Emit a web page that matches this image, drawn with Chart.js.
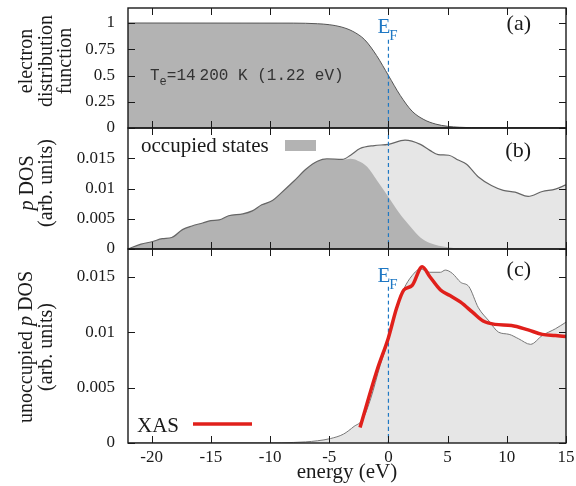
<!DOCTYPE html>
<html>
<head>
<meta charset="utf-8">
<script src="https://cdn.jsdelivr.net/npm/chart.js@4.4.1/dist/chart.umd.min.js"></script>
<style>
html, body { margin: 0; padding: 0; background: #fff; }
#wrap { position: relative; width: 576px; height: 486px; }
canvas { position: absolute; left: 0; top: 0; }
</style>
</head>
<body>
<div id="wrap">
  <canvas id="cA" width="576" height="486"></canvas>
  <canvas id="cB" width="576" height="486"></canvas>
  <canvas id="cC" width="576" height="486"></canvas>
</div>
<script>
// energy axis (eV)
const xMin = -22, xMax = 15;
const xTicks = [-20, -15, -10, -5, 0, 5, 10, 15];
const eFermi = 0;

// (a) electron distribution function
const fdE = [-22, -8, -6, -5, -4, -3, -2, -1, 0, 1, 2, 3, 4, 5, 6, 8, 15];
const fdV = [1, 0.999, 0.993, 0.984, 0.963, 0.92, 0.84, 0.69, 0.5, 0.31, 0.16, 0.08, 0.037, 0.016, 0.007, 0.0014, 0];
const yTicksA = [0, 0.25, 0.5, 0.75, 1];

// (b) p DOS total + occupied part
const dosE = [-22, -20.9, -20, -19.1, -18.3, -17.4, -16.6, -15.7, -15, -14.3, -13.5, -12.3, -11.5, -10.7, -9.8, -9.1,
  -8, -6.9, -6, -5.2, -3.9, -3.2, -2.4, -1.2, 0, 1.4, 2.7, 3.5, 4.2, 5.1, 5.9, 6.6, 7.6, 8.7, 9.7, 10.7, 11.8, 13, 14.1, 15];
const dosV = [0, 0.0008, 0.0012, 0.0017, 0.0019, 0.0032, 0.0038, 0.0043, 0.0047, 0.0048, 0.0055, 0.0058, 0.0063, 0.0073, 0.008, 0.0092,
  0.0112, 0.0133, 0.0145, 0.0149, 0.0148, 0.0155, 0.0166, 0.0171, 0.0173, 0.018, 0.0173, 0.0163, 0.0156, 0.0155, 0.0147, 0.014, 0.0119, 0.0105, 0.0097, 0.0094, 0.0087, 0.0095, 0.0099, 0.0106];
const occE = [-22, -20.9, -20, -19.1, -18.3, -17.4, -16.6, -15.7, -15, -14.3, -13.5, -12.3, -11.5, -10.7, -9.8, -9.1,
  -8, -6.9, -6, -5.2, -3.9, -3.2, -2.6, -1.8, -0.95, 0, 0.9, 1.9, 2.7, 3.5, 5, 7, 9, 15];
const occV = [0, 0.0008, 0.0012, 0.0017, 0.0019, 0.0032, 0.0038, 0.0043, 0.0047, 0.0048, 0.0055, 0.0058, 0.0063, 0.0073, 0.008, 0.0092,
  0.0112, 0.0133, 0.0145, 0.0148, 0.0147, 0.0149, 0.0146, 0.0136, 0.0113, 0.0086, 0.006, 0.0036, 0.0019, 0.001, 0.0003, 0.00005, 0, 0];
const yTicksB = [0, 0.005, 0.01, 0.015];

// (c) unoccupied p DOS + XAS
const unE = [-22, -10, -8, -7, -6, -4.9, -3.8, -2.9, -2.2, -1.5, -0.7, 0, 0.7, 1.3, 2, 2.7, 3.5, 4.4, 4.8, 5.4, 6.1, 6.8, 7.6, 8.5, 9.3, 10.2, 11, 12, 13, 14.1, 15];
const unV = [0, 0.00001, 0.00005, 0.0001, 0.0002, 0.0004, 0.0008, 0.0015, 0.0021, 0.004, 0.007, 0.0093, 0.0122, 0.0139, 0.0151, 0.0157, 0.0154, 0.0154, 0.0156, 0.0153, 0.0145, 0.0141, 0.0122, 0.011, 0.01, 0.0098, 0.0094, 0.0089, 0.0097, 0.0103, 0.0109];
const xasE = [-2.4, -0.95, 0, 0.7, 1.3, 2, 2.85, 3.5, 4.4, 5.2, 6.1, 7.1, 8, 9, 10.4, 11.8, 13, 14.1, 15];
const xasV = [0.0014, 0.0066, 0.0095, 0.0122, 0.0138, 0.0142, 0.0159, 0.015, 0.0138, 0.0133, 0.0127, 0.0118, 0.011, 0.0107, 0.0106, 0.0102, 0.0098, 0.0097, 0.0096];
const yTicksC = [0, 0.005, 0.01, 0.015];

const serif = '"Liberation Serif", "Times New Roman", serif';
const blue = '#1f78c4';
const darkFill = '#b3b3b3';
const lightFill = '#e6e6e6';
const ink = '#1a1a1a';

function pts(xs, ys) {
  return xs.map((v, i) => ({ x: v, y: ys[i] }));
}

function efLine(yTop) {
  return {
    data: [{ x: eFermi, y: yTop }, { x: eFermi, y: 0 }],
    borderColor: blue, borderWidth: 1.2, borderDash: [4, 3], fill: false, tension: 0
  };
}

// box + inward ticks on all four sides
function frame(c) {
  const ctx = c.ctx, a = c.chartArea, x = c.scales.x, y = c.scales.y;
  ctx.save();
  ctx.strokeStyle = ink;
  ctx.lineWidth = 1;
  ctx.beginPath();
  x.ticks.forEach(t => {
    const px = Math.round(x.getPixelForValue(t.value)) + 0.5;
    ctx.moveTo(px, a.top); ctx.lineTo(px, a.top + 7);
    ctx.moveTo(px, a.bottom); ctx.lineTo(px, a.bottom - 7);
  });
  y.ticks.forEach(t => {
    const py = Math.round(y.getPixelForValue(t.value)) + 0.5;
    ctx.moveTo(a.left, py); ctx.lineTo(a.left + 7, py);
    ctx.moveTo(a.right, py); ctx.lineTo(a.right - 7, py);
  });
  ctx.stroke();
  ctx.lineWidth = 1.4;
  ctx.strokeRect(a.left, a.top, a.right - a.left, a.bottom - a.top);
  ctx.restore();
}

// rotated multi-part y title
function vtitle(ctx, cy, lines) {
  ctx.save();
  ctx.fillStyle = ink;
  ctx.textAlign = 'left';
  ctx.textBaseline = 'alphabetic';
  lines.forEach(l => {
    let w = 0;
    l.parts.forEach(p => { ctx.font = p[1]; w += ctx.measureText(p[0]).width; });
    ctx.save();
    ctx.translate(l.x, cy);
    ctx.rotate(-Math.PI / 2);
    let cx = -w / 2;
    l.parts.forEach(p => {
      ctx.font = p[1];
      ctx.fillText(p[0], cx, 0);
      cx += ctx.measureText(p[0]).width;
    });
    ctx.restore();
  });
  ctx.restore();
}

function efLabel(ctx, x, y) {
  ctx.save();
  ctx.fillStyle = blue;
  ctx.textAlign = 'left';
  ctx.font = '21px ' + serif;
  ctx.fillText('E', x, y);
  const w = ctx.measureText('E').width;
  ctx.font = '15px ' + serif;
  ctx.fillText('F', x + w - 1, y + 7);
  ctx.restore();
}

const tickFont = { family: serif, size: 17 };

function panel(id, top, bottom, yMax, yTicks, showX, datasets, deco) {
  return new Chart(document.getElementById(id), {
    type: 'line',
    data: { datasets: datasets },
    options: {
      responsive: false,
      animation: false,
      devicePixelRatio: 1,
      layout: { autoPadding: false, padding: { left: 0, right: 10, top: top, bottom: 0 } },
      plugins: { legend: { display: false }, tooltip: { enabled: false } },
      elements: { point: { radius: 0 }, line: { cubicInterpolationMode: 'monotone' } },
      scales: {
        x: {
          type: 'linear', min: xMin, max: xMax,
          afterBuildTicks: s => { s.ticks = xTicks.map(v => ({ value: v })); },
          afterFit: s => { s.height = 486 - bottom; s.paddingLeft = 0; s.paddingRight = 0; },
          grid: { display: false, drawTicks: false },
          border: { display: false },
          ticks: { display: showX, padding: 4, font: tickFont, color: ink, maxRotation: 0, autoSkip: false, callback: v => String(v) }
        },
        y: {
          type: 'linear', min: 0, max: yMax,
          afterBuildTicks: s => { s.ticks = yTicks.map(v => ({ value: v })); },
          afterFit: s => { s.width = 128; s.paddingTop = 0; s.paddingBottom = 0; },
          grid: { display: false, drawTicks: false },
          border: { display: false },
          ticks: { padding: 13, font: tickFont, color: ink, autoSkip: false, callback: v => String(v) }
        }
      }
    },
    plugins: [{ id: 'deco', afterDraw: c => { frame(c); deco(c.ctx, c); } }]
  });
}

// (a)
panel('cA', 8, 128, 1.143, yTicksA, false, [
  efLine(0.84),
  { data: pts(fdE, fdV), borderColor: '#555', borderWidth: 1, backgroundColor: darkFill, fill: 'origin' }
], (ctx, c) => {
  ctx.save();
  ctx.fillStyle = ink;
  ctx.textAlign = 'right';
  ctx.font = '22px ' + serif;
  ctx.fillText('(a)', 531, 30);
  // T_e label
  ctx.textAlign = 'left';
  ctx.fillStyle = '#333';
  let x = 150;
  ctx.font = '16px "Liberation Mono", monospace';
  ctx.fillText('T', x, 80); x += ctx.measureText('T').width;
  ctx.font = '12px "Liberation Mono", monospace';
  ctx.fillText('e', x, 85); x += ctx.measureText('e').width;
  ctx.font = '16px "Liberation Mono", monospace';
  ctx.fillText('=14', x, 80); x += ctx.measureText('=14').width + 4;
  ctx.fillText('200 K (1.22 eV)', x, 80);
  ctx.restore();
  efLabel(ctx, c.scales.x.getPixelForValue(eFermi) - 11, 33);
  const f = '20px ' + serif;
  vtitle(ctx, 61, [
    { x: 32, parts: [['electron', f]] },
    { x: 51.5, parts: [['distribution', f]] },
    { x: 71, parts: [['function', f]] }
  ]);
});

// (b)
panel('cB', 128, 249, 0.02, yTicksB, false, [
  efLine(0.02),
  { data: pts(dosE, dosV), borderColor: '#666', borderWidth: 1.2, fill: false },
  { data: pts(occE, occV), borderWidth: 0, borderColor: 'rgba(0,0,0,0)', backgroundColor: darkFill, fill: 'origin' },
  { data: pts(dosE, dosV), borderWidth: 0, borderColor: 'rgba(0,0,0,0)', backgroundColor: lightFill, fill: 'origin' }
], (ctx) => {
  ctx.save();
  ctx.fillStyle = ink;
  ctx.textAlign = 'right';
  ctx.font = '22px ' + serif;
  ctx.fillText('(b)', 531, 157);
  ctx.textAlign = 'left';
  ctx.font = '21px ' + serif;
  ctx.fillText('occupied states', 141, 152);
  ctx.fillStyle = darkFill;
  ctx.fillRect(285, 140, 31, 11);
  ctx.restore();
  const f = '20px ' + serif, fi = 'italic 20px ' + serif;
  vtitle(ctx, 183, [
    { x: 33, parts: [['p', fi], [' DOS', f]] },
    { x: 52, parts: [['(arb. units)', f]] }
  ]);
});

// (c)
panel('cC', 249, 443, 0.0175, yTicksC, true, [
  { data: pts(xasE, xasV), borderColor: '#e0201b', borderWidth: 3.5, fill: false },
  efLine(0.0141),
  { data: pts(unE, unV), borderColor: '#777', borderWidth: 1, backgroundColor: lightFill, fill: 'origin' }
], (ctx, c) => {
  ctx.save();
  ctx.fillStyle = ink;
  ctx.textAlign = 'right';
  ctx.font = '22px ' + serif;
  ctx.fillText('(c)', 531, 276);
  ctx.textAlign = 'left';
  ctx.font = '21px ' + serif;
  ctx.fillText('XAS', 137, 432);
  ctx.strokeStyle = '#e0201b';
  ctx.lineWidth = 3.5;
  ctx.beginPath();
  ctx.moveTo(193, 424); ctx.lineTo(252, 424);
  ctx.stroke();
  ctx.textAlign = 'center';
  ctx.fillText('energy (eV)', (c.chartArea.left + c.chartArea.right) / 2, 478);
  ctx.restore();
  efLabel(ctx, c.scales.x.getPixelForValue(eFermi) - 11, 282);
  const f = '20px ' + serif, fi = 'italic 20px ' + serif;
  vtitle(ctx, 347, [
    { x: 32, parts: [['unoccupied ', f], ['p', fi], [' DOS', f]] },
    { x: 52, parts: [['(arb. units)', f]] }
  ]);
});
</script>
</body>
</html>
